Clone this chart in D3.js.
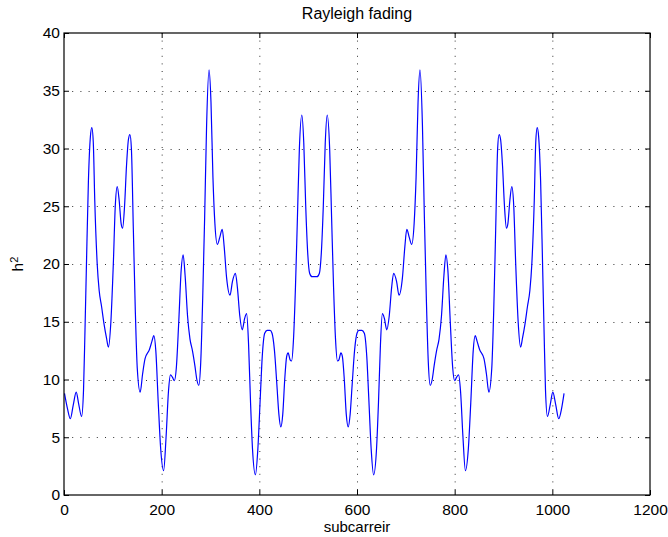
<!DOCTYPE html>
<html>
<head>
<meta charset="utf-8">
<script src="https://cdn.jsdelivr.net/npm/d3@7"></script>
<style>
  body { margin: 0; background: #fff; }
  text { font-family: "Liberation Sans", Arial, Helvetica, sans-serif; fill: #000; }
</style>
</head>
<body>
<div id="chart"></div>
<script>
// subcarrier index and |h|^2
const subIdx = [1, 7, 13, 19, 25, 30, 36, 40, 43, 46, 50, 54, 57, 60, 63, 68, 72, 77, 82, 87, 91,
  96, 101, 105, 109, 113, 117, 120, 124, 128, 132, 135, 138, 142, 146, 150, 156, 161, 166, 175, 180, 184,
  188, 193, 198, 204, 209, 214, 218, 222, 226, 230, 235, 240, 244, 248, 253, 258, 263, 268, 272, 276,
  280, 284, 288, 292, 297, 301, 305, 309, 314, 319, 324, 328, 333, 340, 345, 351, 355, 360, 365, 370, 374,
  378, 382, 386, 392, 397, 402, 406, 411, 416, 422, 426, 431, 436, 440, 444, 448, 452, 456, 459, 463, 466,
  470, 474, 478, 482, 487, 491, 495, 499, 503, 508, 513, 518, 523, 527, 531, 535, 539, 544, 548, 552, 556,
  560, 563, 567, 570, 574, 578, 582, 586, 590, 595, 600, 604, 610, 615, 620, 624, 629, 634, 640, 644, 648,
  652, 656, 661, 666, 671, 675, 681, 686, 693, 698, 702, 707, 712, 717, 721, 725, 729, 734, 738, 742, 746,
  750, 754, 758, 763, 768, 773, 778, 782, 786, 791, 796, 800, 804, 808, 812, 817, 822, 828, 833, 838, 842,
  846, 851, 860, 865, 870, 876, 880, 884, 888, 891, 894, 898, 902, 906, 909, 913, 917, 921, 925, 930, 935,
  939, 944, 949, 954, 958, 963, 966, 969, 972, 976, 980, 983, 986, 990, 996, 1001, 1007, 1013, 1019, 1024];

const hSq = [8.8, 7.5, 6.6, 7.8, 8.9, 7.9, 6.8, 9.1, 14.3, 20, 27.2, 31, 31.8, 30.5, 25.5, 20, 17.7, 16.3, 14.8, 13.6, 12.8,
  15, 20, 25, 26.7, 25.5, 23.5, 23.1, 25, 28.5, 30.8, 31.2, 30, 23, 16, 11, 8.9, 10.5, 11.8, 12.6, 13.3, 13.8,
  12.5, 8, 4, 2.1, 5, 9, 10.4, 10.2, 9.9, 11, 15, 19.5, 20.8, 19, 15.5, 13.5, 12.5, 11.2, 10, 9.5,
  11.5, 17, 24, 32, 36.8, 34, 27.5, 23.5, 21.7, 22.3, 23, 21.5, 18.8, 17.3, 18.5, 19.2, 18, 15.5, 14.3, 15.3, 15.7,
  13, 8, 4, 1.75, 4, 8.5, 12, 14, 14.25, 14.25, 14, 12.5, 9.5, 7, 5.9, 7, 10, 12, 12.3, 11.7, 11.6,
  13.5, 18, 24, 30, 32.9, 30.5, 25, 21, 19.2, 18.9, 18.9, 18.9, 19.2, 21, 25, 30.5, 32.9, 30, 24, 18, 13.5,
  11.6, 11.7, 12.3, 12, 10, 7, 5.9, 7, 9.5, 12.5, 14, 14.25, 14.25, 14, 12, 8.5, 4, 1.75, 4, 8, 13,
  15.7, 15.3, 14.3, 15.5, 18, 19.2, 18.5, 17.3, 18.8, 21.5, 23, 22.3, 21.7, 23.5, 27.5, 34, 36.8, 32, 24, 17, 11.5,
  9.5, 10, 11.2, 12.5, 13.5, 15.5, 19, 20.8, 19.5, 15, 11, 9.9, 10.2, 10.4, 9, 5, 2.1, 4, 8, 12.5, 13.8,
  13.3, 12.6, 11.8, 10.5, 8.9, 11, 16, 23, 30, 31.2, 30.8, 28.5, 25, 23.1, 23.5, 25.5, 26.7, 25, 20, 15, 12.8,
  13.6, 14.8, 16.3, 17.7, 20, 25.5, 30.5, 31.8, 31, 27.2, 20, 14.3, 9.1, 6.8, 7.9, 8.9, 7.8, 6.6, 7.5, 8.8];

const xTicks = [0, 200, 400, 600, 800, 1000, 1200];
const yTicks = [0, 5, 10, 15, 20, 25, 30, 35, 40];

const width = 668, height = 537;
const margin = {top: 33, right: 18, bottom: 42, left: 64};
const iw = width - margin.left - margin.right;
const ih = height - margin.top - margin.bottom;

const svg = d3.select("#chart").append("svg")
  .attr("width", width)
  .attr("height", height);

const g = svg.append("g")
  .attr("transform", "translate(" + margin.left + "," + margin.top + ")");

const x = d3.scaleLinear().domain([0, 1200]).range([0, iw]);
const y = d3.scaleLinear().domain([0, 40]).range([ih, 0]);

// dotted grid
g.append("g").selectAll("line.vg")
  .data(xTicks.slice(1, -1))
  .enter().append("line")
  .attr("x1", d => x(d) + 0.5).attr("x2", d => x(d) + 0.5)
  .attr("y1", 0).attr("y2", ih)
  .attr("stroke", "#333").attr("stroke-width", 1)
  .attr("stroke-dasharray", "1,6.6");

g.append("g").selectAll("line.hg")
  .data(yTicks.slice(1, -1))
  .enter().append("line")
  .attr("x1", 0).attr("x2", iw)
  .attr("y1", d => Math.round(y(d)) + 0.5).attr("y2", d => Math.round(y(d)) + 0.5)
  .attr("stroke", "#333").attr("stroke-width", 1)
  .attr("stroke-dasharray", "1,7.2");

// the curve
const pts = subIdx.map((k, i) => [k, hSq[i]]);
const line = d3.line()
  .x(d => x(d[0]))
  .y(d => y(d[1]))
  .curve(d3.curveMonotoneX);

g.append("path")
  .datum(pts)
  .attr("fill", "none")
  .attr("stroke", "#0000ff")
  .attr("stroke-width", 1.2)
  .attr("d", line);

// axes, ticks pointing inward like matlab
const fontSize = "15.5px";

const xAxis = g.append("g")
  .attr("transform", "translate(0," + ih + ")")
  .call(d3.axisBottom(x).tickValues(xTicks).tickFormat(d3.format("d"))
    .tickSizeInner(-5).tickSizeOuter(0).tickPadding(9));
xAxis.selectAll("text").style("font-size", fontSize);

const xTop = g.append("g")
  .call(d3.axisTop(x).tickValues(xTicks).tickFormat("")
    .tickSizeInner(-5).tickSizeOuter(0));

const yAxis = g.append("g")
  .call(d3.axisLeft(y).tickValues(yTicks).tickFormat(d3.format("d"))
    .tickSizeInner(-5).tickSizeOuter(0).tickPadding(4));
yAxis.selectAll("text").style("font-size", fontSize);

const yRight = g.append("g")
  .attr("transform", "translate(" + iw + ",0)")
  .call(d3.axisRight(y).tickValues(yTicks).tickFormat("")
    .tickSizeInner(-5).tickSizeOuter(0));

[xAxis, xTop, yAxis, yRight].forEach(a => {
  a.select(".domain").remove();
  a.selectAll("line").attr("stroke", "#000");
});

// box
g.append("rect")
  .attr("x", 0).attr("y", 0)
  .attr("width", iw).attr("height", ih)
  .attr("fill", "none")
  .attr("stroke", "#000")
  .attr("stroke-width", 1.2);

// title and labels
svg.append("text")
  .attr("x", margin.left + iw / 2)
  .attr("y", 19)
  .attr("text-anchor", "middle")
  .style("font-size", "16px")
  .text("Rayleigh fading");

svg.append("text")
  .attr("x", margin.left + iw / 2)
  .attr("y", 532)
  .attr("text-anchor", "middle")
  .style("font-size", "15px")
  .text("subcarreir");

const yl = svg.append("text")
  .attr("transform", "translate(23," + (margin.top + ih / 2) + ") rotate(-90)")
  .attr("text-anchor", "middle")
  .style("font-size", fontSize);
yl.append("tspan").text("h");
yl.append("tspan").attr("dy", "-0.45em").style("font-size", "11px").text("2");
</script>
</body>
</html>
